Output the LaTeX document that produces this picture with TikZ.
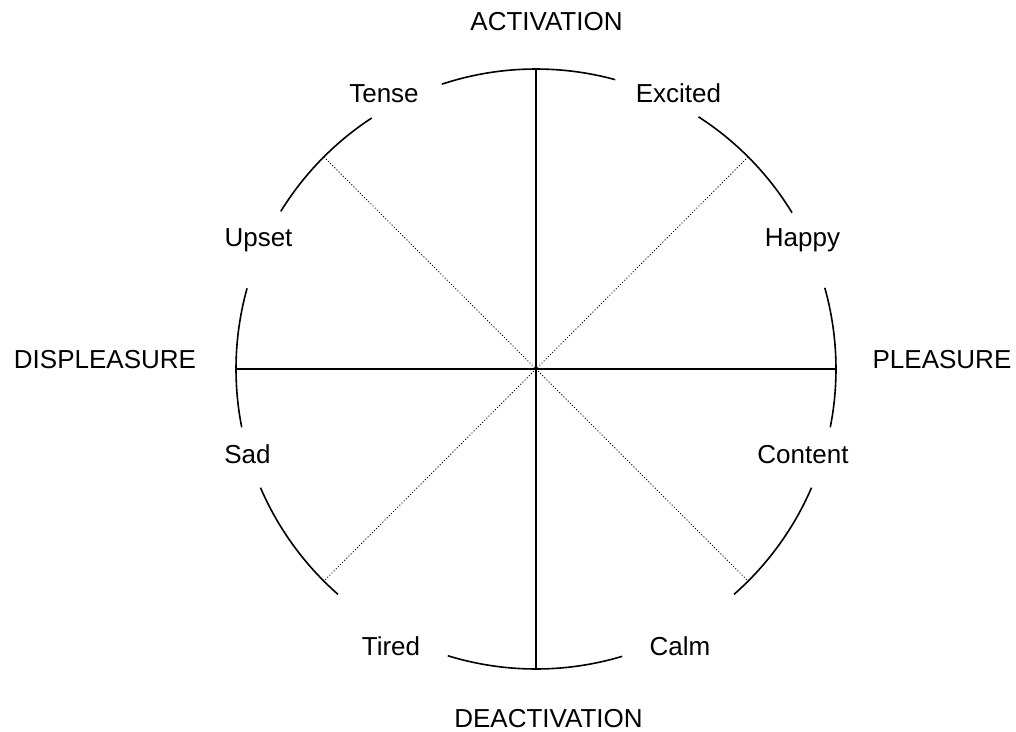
\documentclass[tikz,border=0pt]{standalone}
\usepackage{fontspec}
\setmainfont{Liberation Sans}
\begin{document}
\begin{tikzpicture}[x=1pt,y=1pt,line width=1.6pt]
			\useasboundingbox (-536,-362) rectangle (480,369);
			% circle, broken where the labels sit
			\foreach \a/\b in {74.7/108.3,123.2/148.3,164.4/191.2,203.3/228.7,
				252.9/286.7,311.3/336.7,348.8/375.7,31.4/57.2}
				\draw (\a:300) arc[start angle=\a,end angle=\b,radius=300pt];
			
			\coordinate (O) at (0,0);
			\coordinate (N) at (90:300);
			\coordinate (S) at (270:300);
			\coordinate (E) at (0:300);
			\coordinate (W) at (180:300);
			\coordinate (NE) at (45:300);
			\coordinate (NW) at (135:300);
			\coordinate (SE) at (315:300);
			\coordinate (SW) at (225:300);
			
			\begin{scope}[every node/.style={anchor=base,
				font=\fontsize{26}{31}\selectfont}]
			\node (act) at (10.5,338) {ACTIVATION};
			\node (deact) at (12.5,-358) {DEACTIVATION};
			\node (displ) at (-431,1) {DISPLEASURE};
			\node (pleas) at (406,1) {PLEASURE};
			\node (tense) at (-152,266) {Tense};
			\node (excit) at (142.5,266) {Excited};
			\node (upset) at (-277.5,122) {Upset};
			\node (happy) at (266.5,122) {Happy};
			\node (sad) at (-288.5,-94) {Sad};
			\node (cont) at (267,-94) {Content};
			\node (tired) at (-145,-286) {Tired};
			\node (calm) at (144,-286) {Calm};
			\end{scope}
			
			\path (N) edge (S);
			\path (W) edge (E);
			\path[line width=1pt,dotted] (NE) edge (SW);
			\path[line width=1pt,dotted] (NW) edge (SE);
			\end{tikzpicture}
\end{document}
